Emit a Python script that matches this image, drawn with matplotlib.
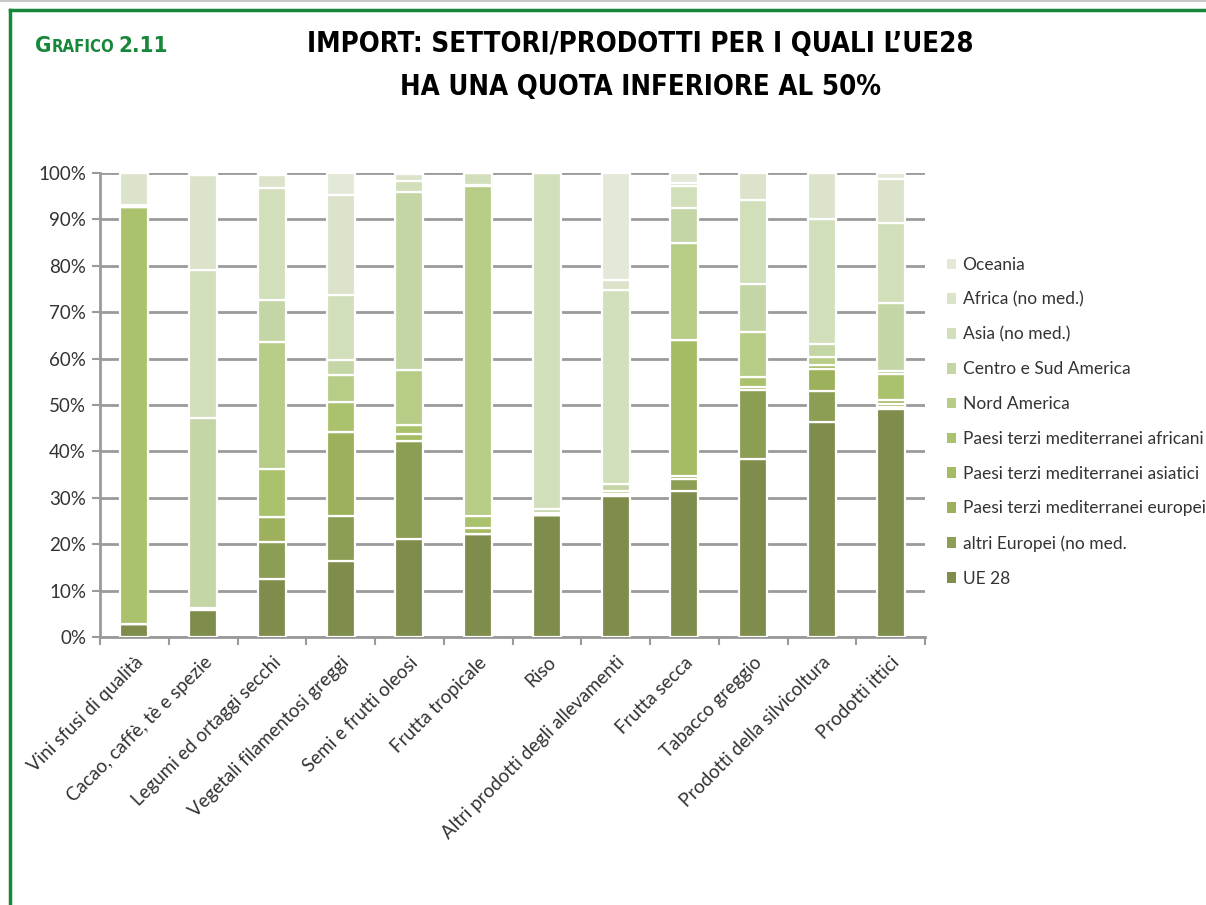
import numpy as np
import matplotlib
matplotlib.use("Agg")
from matplotlib import pyplot as plt
from matplotlib.patches import Patch
from matplotlib.lines import Line2D

# categorie (asse x)
categories = ["Vini sfusi di qualità", "Cacao, caffè, tè e spezie", "Legumi ed ortaggi secchi",
              "Vegetali filamentosi greggi", "Semi e frutti oleosi", "Frutta tropicale", "Riso",
              "Altri prodotti degli allevamenti", "Frutta secca", "Tabacco greggio",
              "Prodotti della silvicoltura", "Prodotti ittici"]

# quote % per area di origine (dal basso verso l'alto)
ue28 = [2.7, 5.8, 12.6, 16.4, 21.1, 22.2, 26.3, 30.4, 31.5, 38.3, 46.3, 49.1]
altri_europei = [0, 0.3, 7.8, 9.7, 21.1, 0, 0, 0.5, 2.5, 14.9, 6.8, 0.5]
pt_med_europei = [0, 0, 5.4, 18.1, 0, 0, 0, 0, 0.7, 0.6, 4.7, 0.6]
pt_med_asiatici = [0, 0, 0, 0, 1.5, 1.2, 0, 0, 29.3, 0, 0.9, 0.9]
pt_med_africani = [90.0, 0.2, 10.4, 6.5, 2.0, 2.6, 0, 0, 0, 2.3, 0, 5.6]
nord_america = [0, 0, 27.3, 5.8, 11.9, 71.1, 0.5, 0.6, 20.9, 9.7, 1.7, 0.7]
centro_sud_america = [0, 41.0, 9.2, 3.1, 38.2, 0.4, 0.8, 1.5, 7.6, 10.2, 2.8, 14.5]
asia = [0.5, 31.8, 24.1, 14.0, 2.5, 2.5, 72.4, 41.7, 4.6, 18.1, 26.9, 17.3]
africa = [6.8, 20.4, 2.7, 21.7, 1.4, 0, 0, 2.3, 0.7, 5.9, 9.9, 9.6]
oceania = [0, 0.5, 0.5, 4.7, 0.3, 0, 0, 23.0, 2.2, 0, 0, 1.2]

series_labels = ["UE 28", "altri Europei (no med.", "Paesi terzi mediterranei europei",
                 "Paesi terzi mediterranei asiatici", "Paesi terzi mediterranei africani",
                 "Nord America", "Centro e Sud America", "Asia (no med.)",
                 "Africa (no med.)", "Oceania"]
series_values = [ue28, altri_europei, pt_med_europei, pt_med_asiatici, pt_med_africani,
                 nord_america, centro_sud_america, asia, africa, oceania]
series_colors = ["#7f8d4c", "#8b9e54", "#9db15c", "#a5bb64", "#abc26c",
                 "#b6cc87", "#c5d6a6", "#d1dfbb", "#dbe4cb", "#e3e9d8"]

GREEN = "#17873a"
TXT = "#333333"
plt.rcParams["font.family"] = ["Lato", "DejaVu Sans"]

fig = plt.figure(figsize=(12.06, 9.05), dpi=100)
ax = fig.add_axes([100 / 1206, 1 - 637 / 905, 825 / 1206, 464 / 905])

x = np.arange(len(categories))
bottom = np.zeros(len(categories))
for vals, col in zip(series_values, series_colors):
    vals = np.array(vals)
    ax.bar(x, vals, width=0.41, bottom=bottom, color=col, edgecolor="white",
           linewidth=1.6, zorder=3)
    bottom += vals

ax.set_xlim(-0.5, len(categories) - 0.5)
ax.set_ylim(0, 100)
ax.set_yticks(np.arange(0, 101, 10))
ax.set_yticklabels([f"{v}%" for v in range(0, 101, 10)], fontsize=13.5, color=TXT)
ax.yaxis.grid(True, color="#9a9a9a", linewidth=2, zorder=0)
ax.set_axisbelow(True)

# tick sull'asse x ai confini delle categorie
ax.set_xticks(np.arange(-0.5, len(categories), 1.0))
ax.set_xticklabels([])
ax.set_xticks(x, minor=True)
ax.set_xticklabels(categories, minor=True, rotation=45, ha="right",
                   rotation_mode="anchor", fontsize=13.5, color=TXT)
ax.tick_params(axis="x", which="minor", length=0, pad=12)
ax.tick_params(axis="x", which="major", length=6, width=1.5, color="#9a9a9a")
ax.tick_params(axis="y", length=6, width=1.5, color="#9a9a9a", pad=4)

for s in ["top", "right"]:
    ax.spines[s].set_visible(False)
for s in ["left", "bottom"]:
    ax.spines[s].set_color("#9a9a9a")
    ax.spines[s].set_linewidth(2)

handles = [Patch(facecolor=c, edgecolor="none") for c in series_colors][::-1]
leg = fig.legend(handles, series_labels[::-1], loc="upper left",
                 bbox_to_anchor=(940 / 1206, 1 - 250 / 905), frameon=False,
                 prop={"size": 12.5}, handlelength=0.55,
                 handleheight=0.55, handletextpad=0.35, labelspacing=1.08,
                 borderaxespad=0)
for t in leg.get_texts():
    t.set_color(TXT)

# cornice verde
fig.add_artist(Line2D([10 / 1206, 1], [1 - 10 / 905, 1 - 10 / 905], color=GREEN, lw=2.5))
fig.add_artist(Line2D([10 / 1206, 10 / 1206], [0, 1 - 10 / 905], color=GREEN, lw=2.5))
fig.add_artist(Line2D([0, 1], [1 - 1 / 905, 1 - 1 / 905], color="#c8c8c8", lw=1.5))

# titolo
fam = ["DejaVu Sans"]
fig.canvas.draw()
r = fig.canvas.get_renderer()
t1 = fig.text(35 / 1206, 1 - 52 / 905, "G", color=GREEN, fontsize=16,
              fontweight="bold", family=fam, fontstretch="condensed", va="baseline")
bb = t1.get_window_extent(r)
t2 = fig.text(bb.x1 / 1206, 1 - 52 / 905, "RAFICO", color=GREEN, fontsize=12,
              fontweight="bold", family=fam, fontstretch="condensed", va="baseline")
bb = t2.get_window_extent(r)
fig.text(bb.x1 / 1206 + 4 / 1206, 1 - 52 / 905, "2.11", color=GREEN, fontsize=16,
         fontweight="bold", family=fam, fontstretch="condensed", va="baseline")

fig.text(640 / 1206, 1 - 44 / 905, "IMPORT: SETTORI/PRODOTTI PER I QUALI L’UE28",
         ha="center", va="center", fontsize=19.8, fontweight="bold", family=fam,
         fontstretch="condensed", color="black")
fig.text(640 / 1206, 1 - 87 / 905, "HA UNA QUOTA INFERIORE AL 50%",
         ha="center", va="center", fontsize=19.8, fontweight="bold", family=fam,
         fontstretch="condensed", color="black")

fig.savefig("out.png", dpi=100, facecolor="white")
